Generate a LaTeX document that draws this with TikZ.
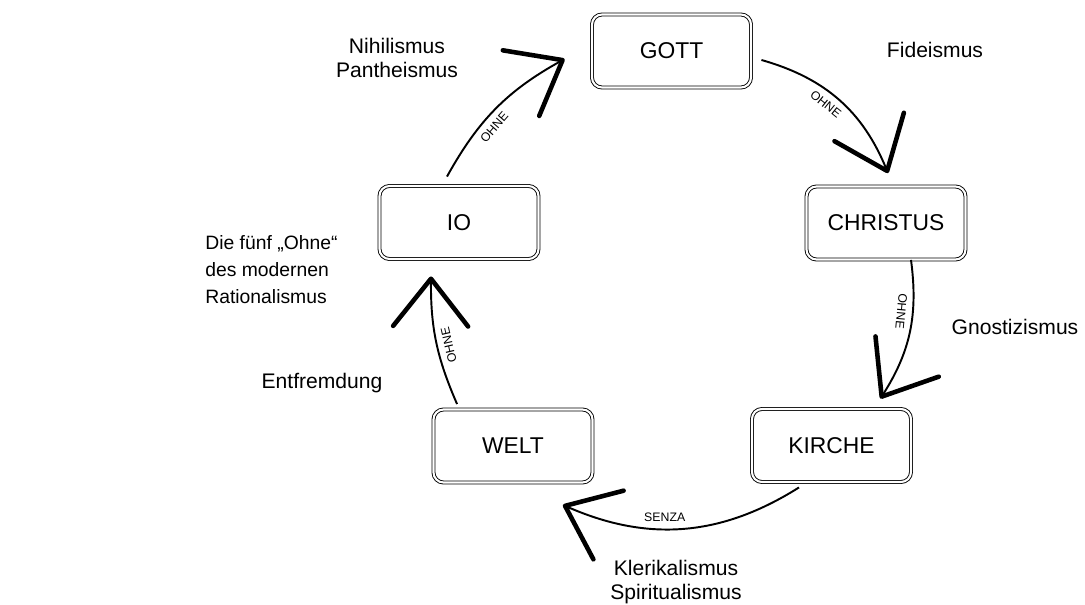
\documentclass[tikz,border=0pt]{standalone}
\usepackage{fontspec}
\setmainfont{Liberation Sans}
\usetikzlibrary{arrows.meta, positioning}
\tikzset{
  box/.style={draw, double, double distance=1.2pt, line width=0.5pt, rounded corners=0.2cm,
    minimum width=3.18cm, minimum height=1.46cm, font=\fontsize{13}{15}\selectfont},
  lbl/.style={align=center, font=\fontsize{12}{14}\selectfont},
  cyc/.style={line width=1.1pt, -{Straight Barb[length=0.95cm, width=1.5cm, line width=2.6pt, round]}},
  tag/.style={font=\fontsize{7}{8}\selectfont, inner sep=3.5pt}
}

\begin{document}
\begin{tikzpicture}
		\useasboundingbox (0,0) rectangle (21.7,-12.1);
		\node[box] (gott) at (13.43,-1.02) {GOTT};
		\node[box] (christus) at (17.72,-4.46) {CHRISTUS};
		\node[box] (kirche) at (16.63,-8.91) {KIRCHE};
		\node[box] (welt) at (10.26,-8.92) {WELT};
		\node[box] (io) at (9.18,-4.45) {IO};
		% the five arrows, clockwise
		\draw[cyc] ([xshift=0.2cm,yshift=-0.18cm]gott.east) to[bend left=26]
			node[tag,sloped,below,pos=0.45]{OHNE} ([xshift=0.04cm,yshift=0.26cm]christus.north);
		\draw[cyc] ([xshift=0.5cm]christus.south) to[bend left=20]
			node[tag,sloped,below,pos=0.35,allow upside down]{OHNE} ([xshift=-0.62cm,yshift=0.2cm]kirche.north east);
		\draw[cyc] ([xshift=-0.65cm,yshift=-0.1cm]kirche.south) to[bend left=28]
			node[tag,above,pos=0.58]{SENZA} ([xshift=-0.6cm,yshift=-0.44cm]welt.south east);
		\draw[cyc] ([xshift=0.48cm,yshift=0.1cm]welt.north west) to[bend left=12]
			node[tag,sloped,below,pos=0.45,allow upside down]{OHNE} ([xshift=-0.56cm,yshift=-0.34cm]io.south);
		\draw[cyc] ([xshift=-0.24cm,yshift=0.18cm]io.north) to[bend left=16]
			node[tag,sloped,below,pos=0.4]{OHNE} ([xshift=-0.54cm,yshift=-0.16cm]gott.west);
		% the -ismen
		\node[lbl] (nihil) at (7.94,-1.16) {Nihilismus\\Pantheismus};
		\node[lbl] (fide) at (18.7,-1.0) {Fideismus};
		\node[lbl] (gnost) at (20.3,-6.54) {Gnostizismus};
		\node[lbl] (kler) at (13.52,-11.64) {Klerikalismus\\Spiritualismus};
		\node[lbl] (entf) at (6.44,-7.66) {Entfremdung};
		\node[anchor=west, align=left, inner sep=0pt, font=\fontsize{11}{15.4}\selectfont] (titel) at (4.1,-5.4)
			{Die fünf „Ohne“\\des modernen\\Rationalismus};
		%\node at (4.1,-8){};
\end{tikzpicture}
\end{document}
